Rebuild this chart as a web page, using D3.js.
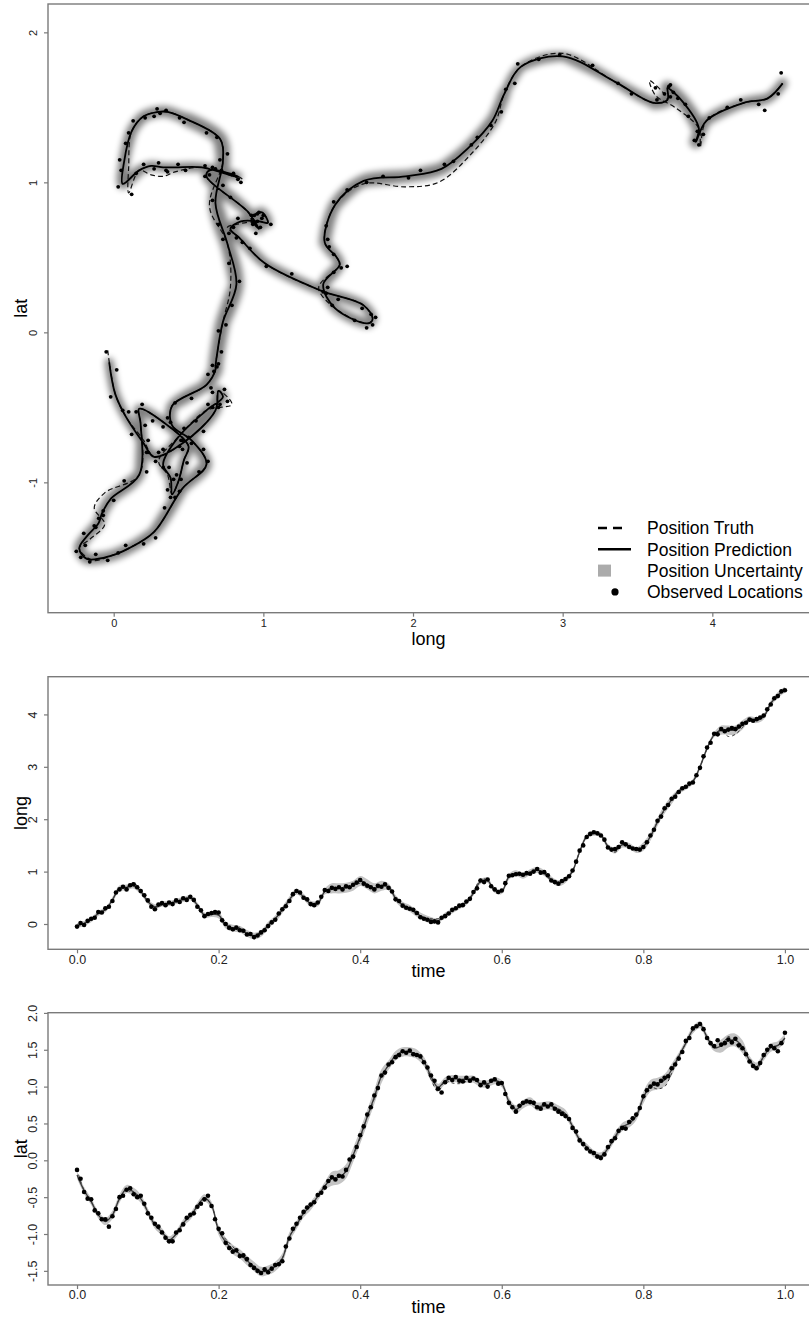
<!DOCTYPE html>
<html lang="en">
<head>
  <meta charset="UTF-8">
  <title>track prediction</title>
  <style>
    body {
      margin: 0;
      background: #fff;
    }
    svg text {
      font-family: "Liberation Sans", Arial, Helvetica, sans-serif;
    }
  </style>
</head>
<body>
<script src="https://cdnjs.cloudflare.com/ajax/libs/d3/7.8.5/d3.min.js"></script>
<script>
  // time grid of the fitted track
  var times = [0.00,0.01,0.02,0.03,0.04,0.05,0.06,0.07,0.08,0.09,
    0.10,0.11,0.12,0.13,0.14,0.15,0.16,0.17,0.18,0.19,
    0.20,0.21,0.22,0.23,0.24,0.25,0.26,0.27,0.28,0.29,
    0.30,0.31,0.32,0.33,0.34,0.35,0.36,0.37,0.38,0.39,
    0.40,0.41,0.42,0.43,0.44,0.45,0.46,0.47,0.48,0.49,
    0.50,0.51,0.52,0.53,0.54,0.55,0.56,0.57,0.58,0.59,
    0.60,0.61,0.62,0.63,0.64,0.65,0.66,0.67,0.68,0.69,
    0.70,0.71,0.72,0.73,0.74,0.75,0.76,0.77,0.78,0.79,
    0.80,0.81,0.82,0.83,0.84,0.85,0.86,0.87,0.88,0.89,
    0.90,0.91,0.92,0.93,0.94,0.95,0.96,0.97,0.98,0.99,
    1.00];

  var predLong = [-0.03,0.01,0.08,0.20,0.27,0.46,0.68,0.70,0.73,0.62,
    0.43,0.33,0.38,0.39,0.43,0.47,0.50,0.36,0.17,0.18,
    0.17,-0.02,-0.08,-0.10,-0.18,-0.23,-0.18,-0.02,0.10,0.27,
    0.46,0.62,0.52,0.39,0.39,0.62,0.68,0.68,0.69,0.73,
    0.82,0.76,0.68,0.73,0.71,0.49,0.36,0.30,0.20,0.12,
    0.07,0.06,0.17,0.25,0.33,0.41,0.59,0.81,0.83,0.64,
    0.62,0.90,0.97,0.92,0.99,1.03,0.97,0.85,0.78,0.84,
    1.01,1.38,1.67,1.73,1.70,1.48,1.40,1.51,1.49,1.41,
    1.48,1.67,1.95,2.19,2.37,2.53,2.61,2.72,3.00,3.35,
    3.61,3.70,3.70,3.70,3.80,3.91,3.89,3.96,4.21,4.37,
    4.47];

  var predLat = [-0.20,-0.41,-0.56,-0.74,-0.83,-0.74,-0.52,-0.39,-0.43,-0.52,
    -0.70,-0.88,-0.97,-1.08,-1.00,-0.85,-0.76,-0.62,-0.51,-0.61,
    -0.95,-1.11,-1.21,-1.27,-1.36,-1.44,-1.51,-1.49,-1.44,-1.33,
    -1.04,-0.88,-0.72,-0.62,-0.49,-0.35,-0.25,-0.23,-0.15,0.07,
    0.32,0.59,0.86,1.14,1.29,1.42,1.47,1.47,1.44,1.34,
    1.14,0.99,1.08,1.11,1.10,1.10,1.10,1.04,1.04,1.08,
    1.04,0.80,0.69,0.76,0.80,0.73,0.74,0.74,0.69,0.63,
    0.46,0.28,0.18,0.09,0.06,0.16,0.32,0.45,0.50,0.60,
    0.85,1.01,1.04,1.09,1.23,1.41,1.59,1.77,1.84,1.67,
    1.53,1.55,1.62,1.63,1.54,1.36,1.27,1.41,1.53,1.56,
    1.66];

  var truthLong = [-0.04,0.01,0.08,0.20,0.27,0.46,0.68,0.70,0.79,0.62,
    0.43,0.30,0.36,0.39,0.43,0.47,0.50,0.36,0.17,0.18,
    0.17,-0.06,-0.13,-0.06,-0.16,-0.23,-0.14,-0.02,0.10,0.27,
    0.46,0.62,0.52,0.39,0.39,0.62,0.68,0.68,0.69,0.73,
    0.78,0.76,0.64,0.73,0.71,0.49,0.36,0.30,0.20,0.12,
    0.10,0.10,0.17,0.25,0.33,0.41,0.59,0.86,0.83,0.64,
    0.62,0.90,0.97,0.92,0.99,1.03,0.97,0.82,0.76,0.84,
    1.01,1.38,1.67,1.73,1.70,1.48,1.37,1.51,1.49,1.41,
    1.48,1.67,1.95,2.17,2.38,2.55,2.61,2.72,3.00,3.35,
    3.61,3.70,3.58,3.62,3.75,3.91,3.92,3.96,4.21,4.37,
    4.47];

  var truthLat = [-0.12,-0.41,-0.56,-0.72,-0.83,-0.74,-0.52,-0.39,-0.48,-0.52,
    -0.70,-0.86,-0.95,-1.08,-1.00,-0.85,-0.76,-0.62,-0.51,-0.61,
    -0.95,-1.07,-1.17,-1.28,-1.38,-1.44,-1.52,-1.49,-1.44,-1.33,
    -1.04,-0.88,-0.72,-0.62,-0.49,-0.35,-0.25,-0.23,-0.15,0.07,
    0.30,0.59,0.84,1.14,1.29,1.42,1.47,1.47,1.44,1.34,
    1.10,0.93,1.08,1.05,1.04,1.07,1.10,1.02,1.04,1.08,
    1.04,0.80,0.69,0.76,0.80,0.73,0.74,0.72,0.70,0.63,
    0.46,0.28,0.18,0.09,0.06,0.16,0.30,0.45,0.50,0.60,
    0.85,0.99,0.97,1.00,1.18,1.40,1.59,1.77,1.86,1.67,
    1.53,1.55,1.68,1.58,1.50,1.36,1.24,1.41,1.53,1.56,
    1.66];

  // posterior sd of the position
  var sdPos = [0.03,0.03,0.03,0.03,0.03,0.035,0.035,0.035,0.035,0.035,
    0.03,0.03,0.03,0.03,0.03,0.03,0.03,0.03,0.03,0.03,
    0.04,0.04,0.04,0.04,0.04,0.04,0.04,0.04,0.04,0.04,
    0.04,0.035,0.035,0.035,0.035,0.035,0.06,0.06,0.06,0.06,
    0.06,0.06,0.06,0.06,0.04,0.04,0.04,0.04,0.04,0.04,
    0.04,0.03,0.03,0.03,0.03,0.03,0.03,0.03,0.03,0.03,
    0.03,0.035,0.035,0.035,0.035,0.035,0.035,0.035,0.035,0.035,
    0.03,0.03,0.03,0.03,0.03,0.03,0.035,0.035,0.035,0.035,
    0.05,0.05,0.05,0.05,0.05,0.03,0.03,0.03,0.03,0.03,
    0.03,0.055,0.055,0.055,0.055,0.035,0.035,0.035,0.035,0.035,
    0.035];

  // observed locations
  var obsTime = [0.000,0.005,0.010,0.015,0.020,0.025,0.030,0.035,0.040,0.045,
    0.050,0.055,0.060,0.065,0.070,0.075,0.080,0.085,0.090,0.095,
    0.100,0.105,0.110,0.115,0.120,0.125,0.130,0.135,0.140,0.145,
    0.150,0.155,0.160,0.165,0.170,0.175,0.180,0.185,0.190,0.195,
    0.200,0.205,0.210,0.215,0.220,0.225,0.230,0.235,0.240,0.245,
    0.250,0.255,0.260,0.265,0.270,0.275,0.280,0.285,0.290,0.295,
    0.300,0.305,0.310,0.315,0.320,0.325,0.330,0.335,0.340,0.345,
    0.350,0.355,0.360,0.365,0.370,0.375,0.380,0.385,0.390,0.395,
    0.400,0.405,0.410,0.415,0.420,0.425,0.430,0.435,0.440,0.445,
    0.450,0.455,0.460,0.465,0.470,0.475,0.480,0.485,0.490,0.495,
    0.500,0.505,0.510,0.515,0.520,0.525,0.530,0.535,0.540,0.545,
    0.550,0.555,0.560,0.565,0.570,0.575,0.580,0.585,0.590,0.595,
    0.600,0.605,0.610,0.615,0.620,0.625,0.630,0.635,0.640,0.645,
    0.650,0.655,0.660,0.665,0.670,0.675,0.680,0.685,0.690,0.695,
    0.700,0.705,0.710,0.715,0.720,0.725,0.730,0.735,0.740,0.745,
    0.750,0.755,0.760,0.765,0.770,0.775,0.780,0.785,0.790,0.795,
    0.800,0.805,0.810,0.815,0.820,0.825,0.830,0.835,0.840,0.845,
    0.850,0.855,0.860,0.865,0.870,0.875,0.880,0.885,0.890,0.895,
    0.900,0.905,0.910,0.915,0.920,0.925,0.930,0.935,0.940,0.945,
    0.950,0.955,0.960,0.965,0.970,0.975,0.980,0.985,0.990,0.995,
    1.000];

  var obsLong = [-0.05,0.02,-0.02,0.06,0.10,0.12,0.23,0.22,0.30,0.33,
    0.44,0.60,0.66,0.71,0.66,0.74,0.76,0.70,0.63,0.55,
    0.45,0.33,0.28,0.37,0.40,0.36,0.41,0.38,0.45,0.42,
    0.49,0.46,0.52,0.46,0.33,0.26,0.15,0.19,0.21,0.23,
    0.22,0.07,0.00,-0.07,-0.10,-0.07,-0.12,-0.13,-0.20,-0.19,
    -0.25,-0.22,-0.16,-0.12,-0.04,0.03,0.08,0.20,0.28,0.34,
    0.44,0.57,0.63,0.60,0.50,0.47,0.38,0.36,0.41,0.52,
    0.65,0.63,0.69,0.67,0.70,0.66,0.72,0.70,0.75,0.79,
    0.84,0.77,0.73,0.70,0.66,0.73,0.71,0.76,0.69,0.62,
    0.47,0.44,0.35,0.31,0.29,0.27,0.21,0.13,0.10,0.08,
    0.04,0.05,0.03,0.12,0.15,0.20,0.27,0.30,0.35,0.36,
    0.43,0.48,0.61,0.68,0.83,0.80,0.85,0.72,0.66,0.61,
    0.64,0.78,0.92,0.93,0.95,0.96,0.94,0.97,0.96,1.00,
    1.05,0.98,0.99,0.93,0.83,0.80,0.77,0.82,0.86,0.91,
    1.02,1.19,1.40,1.50,1.66,1.72,1.75,1.73,1.69,1.61,
    1.46,1.42,1.43,1.47,1.56,1.52,1.47,1.44,1.43,1.42,
    1.47,1.56,1.69,1.80,1.97,2.05,2.21,2.27,2.39,2.43,
    2.52,2.59,2.62,2.68,2.70,2.84,2.98,3.20,3.37,3.46,
    3.63,3.62,3.72,3.68,3.71,3.74,3.72,3.77,3.82,3.84,
    3.90,3.88,3.91,3.94,3.98,4.10,4.19,4.31,4.35,4.44,
    4.46];

  var obsLat = [-0.13,-0.25,-0.43,-0.52,-0.53,-0.68,-0.72,-0.80,-0.80,-0.90,
    -0.76,-0.66,-0.50,-0.48,-0.40,-0.38,-0.46,-0.50,-0.48,-0.59,
    -0.72,-0.78,-0.86,-0.90,-0.98,-1.05,-1.10,-1.10,-0.98,-0.95,
    -0.87,-0.78,-0.74,-0.72,-0.63,-0.59,-0.53,-0.48,-0.62,-0.80,
    -0.93,-0.99,-1.12,-1.19,-1.24,-1.22,-1.30,-1.29,-1.34,-1.42,
    -1.46,-1.50,-1.53,-1.48,-1.52,-1.47,-1.42,-1.41,-1.37,-1.17,
    -1.06,-0.93,-0.86,-0.78,-0.70,-0.64,-0.60,-0.57,-0.47,-0.44,
    -0.37,-0.28,-0.23,-0.26,-0.21,-0.22,-0.13,0.01,0.05,0.18,
    0.34,0.46,0.62,0.72,0.88,0.98,1.15,1.19,1.30,1.33,
    1.40,1.43,1.48,1.46,1.49,1.44,1.43,1.41,1.33,1.26,
    1.15,1.08,0.97,0.92,1.06,1.12,1.09,1.13,1.08,1.07,
    1.12,1.08,1.11,1.09,1.02,1.06,1.00,1.08,1.10,1.04,
    1.05,0.90,0.78,0.72,0.66,0.74,0.78,0.80,0.79,0.78,
    0.72,0.70,0.76,0.73,0.76,0.70,0.66,0.63,0.60,0.56,
    0.44,0.39,0.27,0.22,0.16,0.12,0.10,0.05,0.03,0.08,
    0.18,0.26,0.30,0.40,0.44,0.43,0.52,0.57,0.62,0.71,
    0.87,0.95,1.00,1.04,1.03,1.08,1.12,1.14,1.25,1.30,
    1.38,1.47,1.62,1.66,1.79,1.82,1.85,1.78,1.66,1.59,
    1.55,1.63,1.57,1.59,1.64,1.60,1.65,1.56,1.52,1.44,
    1.34,1.28,1.25,1.32,1.43,1.50,1.55,1.52,1.48,1.59,
    1.73];

  var longTicks = [0, 1, 2, 3, 4];
  var latTicks = [-1, 0, 1, 2];
  var timeTicks = [0, 0.2, 0.4, 0.6, 0.8, 1.0];
  var latTicksT = [-1.5, -1.0, -0.5, 0.0, 0.5, 1.0, 1.5, 2.0];
  var legendLabels = ["Position Truth", "Position Prediction", "Position Uncertainty", "Observed Locations"];

  var W = 809, H = 1319;
  var axisCol = "#7a7a7a";

  var pred = times.map(function(t, i){ return {t:t, lo:predLong[i], la:predLat[i], sd:sdPos[i]}; });
  var truth = times.map(function(t, i){ return {t:t, lo:truthLong[i], la:truthLat[i]}; });
  var obs = obsTime.map(function(t, i){ return {t:t, lo:obsLong[i], la:obsLat[i]}; });

  var svg = d3.select("body").append("svg")
    .attr("width", W)
    .attr("height", H)
    .style("display", "block");
  var defs = svg.append("defs");

  var blur = defs.append("filter")
    .attr("id", "halo")
    .attr("filterUnits", "userSpaceOnUse")
    .attr("x", 0).attr("y", 0).attr("width", W).attr("height", 640);
  blur.append("feGaussianBlur").attr("stdDeviation", 3);

  function clipFor(id, b) {
    defs.append("clipPath").attr("id", id)
      .append("rect")
      .attr("x", b.l).attr("y", b.t)
      .attr("width", b.r - b.l).attr("height", b.b - b.t);
    return "url(#" + id + ")";
  }

  function frame(b) {
    svg.append("rect")
      .attr("x", b.l).attr("y", b.t)
      .attr("width", b.r + 3 - b.l).attr("height", b.b - b.t)
      .attr("fill", "none")
      .attr("stroke", axisCol)
      .attr("stroke-width", 1.4);
  }

  function axes(b, x, y, xt, yt, fx, fy, fs, xTitle, yTitle, xTitleY) {
    var ax = svg.append("g")
      .attr("transform", "translate(0," + b.b + ")")
      .call(d3.axisBottom(x).tickValues(xt).tickSize(4).tickFormat(fx));
    ax.select(".domain").remove();
    ax.attr("font-family", null).attr("font-size", fs);
    ax.selectAll("line").attr("stroke", axisCol).attr("stroke-width", 1.2);
    ax.selectAll("text").attr("fill", "#222").attr("y", 10).attr("dy", "0.35em");

    var ay = svg.append("g")
      .attr("transform", "translate(" + b.l + ",0)")
      .call(d3.axisLeft(y).tickValues(yt).tickSize(4).tickFormat(fy));
    ay.select(".domain").remove();
    ay.attr("font-family", null).attr("font-size", fs);
    ay.selectAll("line").attr("stroke", axisCol).attr("stroke-width", 1.2);
    ay.selectAll("text")
      .attr("fill", "#222")
      .attr("transform", "rotate(-90)")
      .attr("x", 0).attr("y", -11).attr("dy", 0)
      .attr("text-anchor", "middle");

    svg.append("text")
      .attr("x", (b.l + W) / 2).attr("y", xTitleY)
      .attr("text-anchor", "middle")
      .attr("font-size", 18)
      .text(xTitle);
    svg.append("text")
      .attr("transform", "translate(27," + (b.t + b.b) / 2 + ") rotate(-90)")
      .attr("text-anchor", "middle")
      .attr("font-size", 18)
      .text(yTitle);
  }

  var fmt0 = function(d){ return String(d); };
  var fmt1 = function(d){ return d.toFixed(1); };

  // ---------- panel 1 : lat vs long ----------
  var b1 = {l:48, r:809, t:4, b:612.7};
  var xLong = d3.scaleLinear().domain([-0.439, 4.646]).range([48, 809]);
  var yLat = d3.scaleLinear().domain([-1.869, 2.189]).range([612.7, 4]);

  var track = d3.line()
    .x(function(d){ return xLong(d.lo); })
    .y(function(d){ return yLat(d.la); })
    .curve(d3.curveCatmullRom.alpha(0.5));

  var g1 = svg.append("g").attr("clip-path", clipFor("c1", b1));

  // uncertainty halo, width follows sd
  var halo = g1.append("g").attr("filter", "url(#halo)").attr("opacity", 0.5);
  for (var k = 0; k < pred.length - 1; k++) {
    var seg = pred.slice(Math.max(0, k - 1), Math.min(pred.length, k + 3));
    halo.append("path")
      .attr("d", track(seg))
      .attr("fill", "none")
      .attr("stroke", "#000")
      .attr("stroke-linecap", "round")
      .attr("stroke-width", 3.5 + pred[k].sd * 170);
  }

  g1.append("path")
    .datum(truth)
    .attr("d", track)
    .attr("fill", "none")
    .attr("stroke", "#111")
    .attr("stroke-width", 1.2)
    .attr("stroke-dasharray", "5,3");

  g1.append("path")
    .datum(pred)
    .attr("d", track)
    .attr("fill", "none")
    .attr("stroke", "#000")
    .attr("stroke-width", 1.8);

  g1.selectAll(".dot")
    .data(obs)
    .enter().append("circle")
    .attr("class", "dot")
    .attr("cx", function(d){ return xLong(d.lo); })
    .attr("cy", function(d){ return yLat(d.la); })
    .attr("r", 1.9)
    .attr("fill", "#000");

  frame(b1);
  axes(b1, xLong, yLat, longTicks, latTicks, fmt0, fmt0, 11, "long", "lat", 645);

  // legend
  var lg = svg.append("g").attr("transform", "translate(598,528)");
  var rowH = 21.3;
  lg.append("line").attr("x1", 0).attr("x2", 29).attr("y1", 0).attr("y2", 0)
    .attr("stroke", "#000").attr("stroke-width", 2.4).attr("stroke-dasharray", "9,6");
  lg.append("line").attr("x1", 0).attr("x2", 33).attr("y1", rowH).attr("y2", rowH)
    .attr("stroke", "#000").attr("stroke-width", 2.4);
  lg.append("rect").attr("x", 0).attr("y", rowH * 2 - 6).attr("width", 13).attr("height", 12)
    .attr("fill", "#ababab");
  lg.append("circle").attr("cx", 17).attr("cy", rowH * 3).attr("r", 3.6).attr("fill", "#000");
  lg.selectAll(".lab")
    .data(legendLabels)
    .enter().append("text")
    .attr("class", "lab")
    .attr("x", 49)
    .attr("y", function(d, i){ return i * rowH; })
    .attr("dy", "0.36em")
    .attr("font-size", 17.5)
    .text(function(d){ return d; });

  // ---------- time panels ----------
  function timePanel(id, b, y, key, yt, fy, yTitle, xTitleY) {
    var x = d3.scaleLinear().domain([-0.041, 1.034]).range([48, 809]);
    var g = svg.append("g").attr("clip-path", clipFor(id, b));

    var band = d3.area()
      .x(function(d){ return x(d.t); })
      .y0(function(d){ return y(d[key] - 1.6 * d.sd); })
      .y1(function(d){ return y(d[key] + 1.6 * d.sd); })
      .curve(d3.curveCatmullRom.alpha(0.5));
    var line = d3.line()
      .x(function(d){ return x(d.t); })
      .y(function(d){ return y(d[key]); })
      .curve(d3.curveCatmullRom.alpha(0.5));

    g.append("path").datum(pred).attr("d", band).attr("fill", "#c4c4c4");
    g.append("path").datum(truth).attr("d", line)
      .attr("fill", "none").attr("stroke", "#222")
      .attr("stroke-width", 0.9).attr("stroke-dasharray", "3,3");
    g.append("path").datum(pred).attr("d", line)
      .attr("fill", "none").attr("stroke", "#3a3a3a").attr("stroke-width", 1.3);

    g.selectAll(".pt")
      .data(obs)
      .enter().append("circle")
      .attr("class", "pt")
      .attr("cx", function(d){ return x(d.t); })
      .attr("cy", function(d){ return y(d[key]); })
      .attr("r", 2.3)
      .attr("fill", "#000");

    frame(b);
    axes(b, x, y, timeTicks, yt, fmt1, fy, 12.5, "time", yTitle, xTitleY);
  }

  var b2 = {l:48, r:809, t:676.7, b:949.3};
  var yLongT = d3.scaleLinear().domain([-0.483, 4.72]).range([949.3, 676.7]);
  timePanel("c2", b2, yLongT, "lo", longTicks, fmt0, "long", 977);

  var b3 = {l:48, r:809, t:1012.7, b:1285};
  var yLatT = d3.scaleLinear().domain([-1.692, 2.003]).range([1285, 1012.7]);
  timePanel("c3", b3, yLatT, "la", latTicksT, fmt1, "lat", 1313);
</script>
</body>
</html>
